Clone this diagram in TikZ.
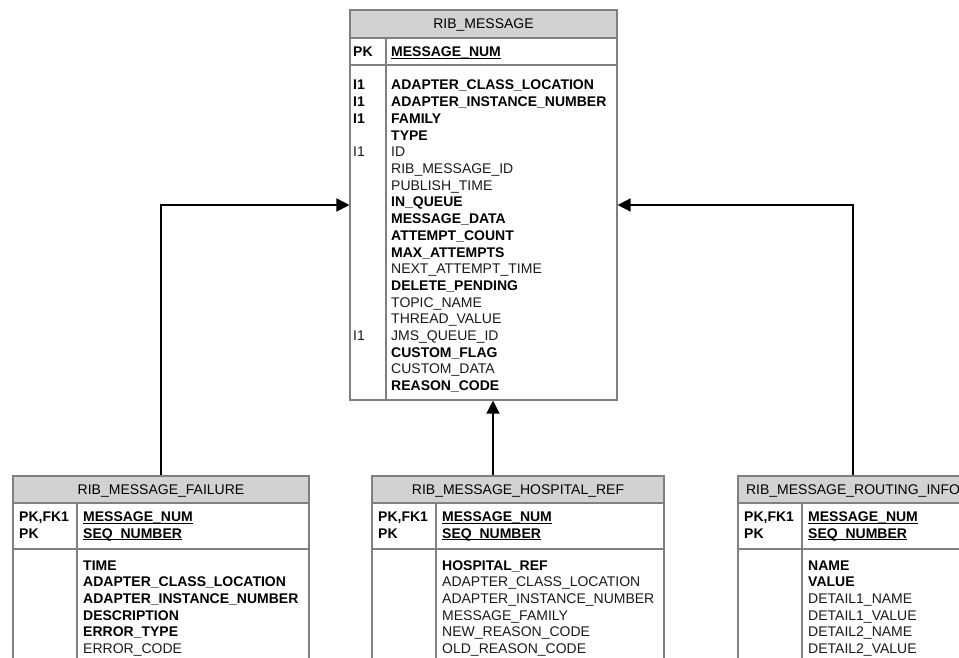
\documentclass[tikz,border=0pt]{standalone}
\usepackage{fontspec}
\setmainfont{Liberation Sans}
\usetikzlibrary{arrows.meta}

\definecolor{tblgray}{RGB}{128,128,128}
\definecolor{hdrgray}{RGB}{210,210,210}
\definecolor{fldgray}{RGB}{25,25,25}

\newcommand{\boldfld}[1]{\textcolor{black}{\textbf{#1}}}
\newcommand{\pkfld}[1]{\textcolor{black}{\setbox0\hbox{\textbf{#1}}\rlap{\rule[-2.1pt]{\wd0}{1.1pt}}\box0}}

\tikzset{
  tbl/.style={draw=tblgray, line width=1.1pt, inner sep=0pt},
  hdr/.style={draw=tblgray, fill=hdrgray, line width=1.1pt, inner sep=0pt, text height=10pt, text depth=0pt},
  rule/.style={draw=tblgray, line width=1.1pt},
  fld/.style={anchor=base west, inner sep=0pt, text=fldgray},
  link/.style={draw=black, line width=1.4pt, -{Triangle[length=13pt, width=13pt]}}
}

\begin{document}
\begin{tikzpicture}[x=1pt, y=-1pt, font=\fontsize{14}{16.7}\selectfont]
\useasboundingbox (0,0) rectangle (959,658);
\clip (0,0) rectangle (959,658);

% RIB_MESSAGE
\node[tbl, minimum width=267pt, minimum height=390pt] (msg) at (483.5,205) {};
\node[hdr, minimum width=267pt, minimum height=28pt, anchor=north] (msghead) at (msg.north) {RIB\_MESSAGE};
\coordinate (msgdiv) at (386,0);
\coordinate (msgkey) at (0,65);
\draw[rule] (msg.west |- msgkey) -- (msg.east |- msgkey);
\draw[rule] (msgdiv |- msghead.south) -- (msgdiv |- msg.south);

\node[fld] (msg-pk) at (353,57) {\boldfld{PK}};
\node[fld] (msg-k0) at (391,57) {\pkfld{MESSAGE\_NUM}};
\node[fld] (msg-i1a) at (353,90) {\boldfld{I1}};
\node[fld] (msg-i1b) at (353,106.7) {\boldfld{I1}};
\node[fld] (msg-i1c) at (353,123.4) {\boldfld{I1}};
\node[fld] (msg-i1d) at (353,156.8) {I1};
\node[fld] (msg-i1e) at (353,340.5) {I1};
\foreach \f [count=\i from 0] in {\boldfld{ADAPTER\_CLASS\_LOCATION}, \boldfld{ADAPTER\_INSTANCE\_NUMBER},
    \boldfld{FAMILY}, \boldfld{TYPE}, ID, RIB\_MESSAGE\_ID, PUBLISH\_TIME, \boldfld{IN\_QUEUE},
    \boldfld{MESSAGE\_DATA}, \boldfld{ATTEMPT\_COUNT}, \boldfld{MAX\_ATTEMPTS}, NEXT\_ATTEMPT\_TIME,
    \boldfld{DELETE\_PENDING}, TOPIC\_NAME, THREAD\_VALUE, JMS\_QUEUE\_ID, \boldfld{CUSTOM\_FLAG},
    CUSTOM\_DATA, \boldfld{REASON\_CODE}}
  \node[fld] (msg-f\i) at (391, 90+16.7*\i) {\f};

% RIB_MESSAGE_FAILURE
\node[tbl, minimum width=296pt, minimum height=224pt] (fail) at (161,588) {};
\node[hdr, minimum width=296pt, minimum height=27pt, anchor=north] (failhead) at (fail.north) {RIB\_MESSAGE\_FAILURE};
\coordinate (faildiv) at (77,0);
\coordinate (botkey) at (0,549);
\draw[rule] (fail.west |- botkey) -- (fail.east |- botkey);
\draw[rule] (faildiv |- failhead.south) -- (faildiv |- fail.south);
\node[fld] (fail-pk) at (19,521.5) {\boldfld{PK,FK1}};
\node[fld] (fail-pk2) at (19,538.2) {\boldfld{PK}};
\node[fld] (fail-k0) at (83,521.5) {\pkfld{MESSAGE\_NUM}};
\node[fld] (fail-k1) at (83,538.2) {\pkfld{SEQ\_NUMBER}};
\foreach \f [count=\i from 0] in {\boldfld{TIME}, \boldfld{ADAPTER\_CLASS\_LOCATION},
    \boldfld{ADAPTER\_INSTANCE\_NUMBER}, \boldfld{DESCRIPTION}, \boldfld{ERROR\_TYPE}, ERROR\_CODE}
  \node[fld] (fail-f\i) at (83, 570+16.7*\i) {\f};

% RIB_MESSAGE_HOSPITAL_REF
\node[tbl, minimum width=292pt, minimum height=224pt] (hosp) at (518,588) {};
\node[hdr, minimum width=292pt, minimum height=27pt, anchor=north] (hosphead) at (hosp.north) {RIB\_MESSAGE\_HOSPITAL\_REF};
\coordinate (hospdiv) at (436,0);
\draw[rule] (hosp.west |- botkey) -- (hosp.east |- botkey);
\draw[rule] (hospdiv |- hosphead.south) -- (hospdiv |- hosp.south);
\node[fld] (hosp-pk) at (378,521.5) {\boldfld{PK,FK1}};
\node[fld] (hosp-pk2) at (378,538.2) {\boldfld{PK}};
\node[fld] (hosp-k0) at (442,521.5) {\pkfld{MESSAGE\_NUM}};
\node[fld] (hosp-k1) at (442,538.2) {\pkfld{SEQ\_NUMBER}};
\foreach \f [count=\i from 0] in {\boldfld{HOSPITAL\_REF}, ADAPTER\_CLASS\_LOCATION,
    ADAPTER\_INSTANCE\_NUMBER, MESSAGE\_FAMILY, NEW\_REASON\_CODE, OLD\_REASON\_CODE}
  \node[fld] (hosp-f\i) at (442, 570+16.7*\i) {\f};

% RIB_MESSAGE_ROUTING_INFO
\node[tbl, minimum width=230pt, minimum height=224pt] (route) at (853,588) {};
\node[hdr, minimum width=230pt, minimum height=27pt, anchor=north] (routehead) at (route.north) {RIB\_MESSAGE\_ROUTING\_INFO};
\coordinate (routediv) at (802,0);
\draw[rule] (route.west |- botkey) -- (route.east |- botkey);
\draw[rule] (routediv |- routehead.south) -- (routediv |- route.south);
\node[fld] (route-pk) at (744,521.5) {\boldfld{PK,FK1}};
\node[fld] (route-pk2) at (744,538.2) {\boldfld{PK}};
\node[fld] (route-k0) at (808,521.5) {\pkfld{MESSAGE\_NUM}};
\node[fld] (route-k1) at (808,538.2) {\pkfld{SEQ\_NUMBER}};
\foreach \f [count=\i from 0] in {\boldfld{NAME}, \boldfld{VALUE}, DETAIL1\_NAME,
    DETAIL1\_VALUE, DETAIL2\_NAME, DETAIL2\_VALUE}
  \node[fld] (route-f\i) at (808, 570+16.7*\i) {\f};

% references
\coordinate (hx) at (493,0);
\draw[link] (fail.north) |- (msg.west);
\draw[link] (route.north) |- (msg.east);
\draw[link] (hosp.north -| hx) -- (msg.south -| hx);

\end{tikzpicture}
\end{document}
